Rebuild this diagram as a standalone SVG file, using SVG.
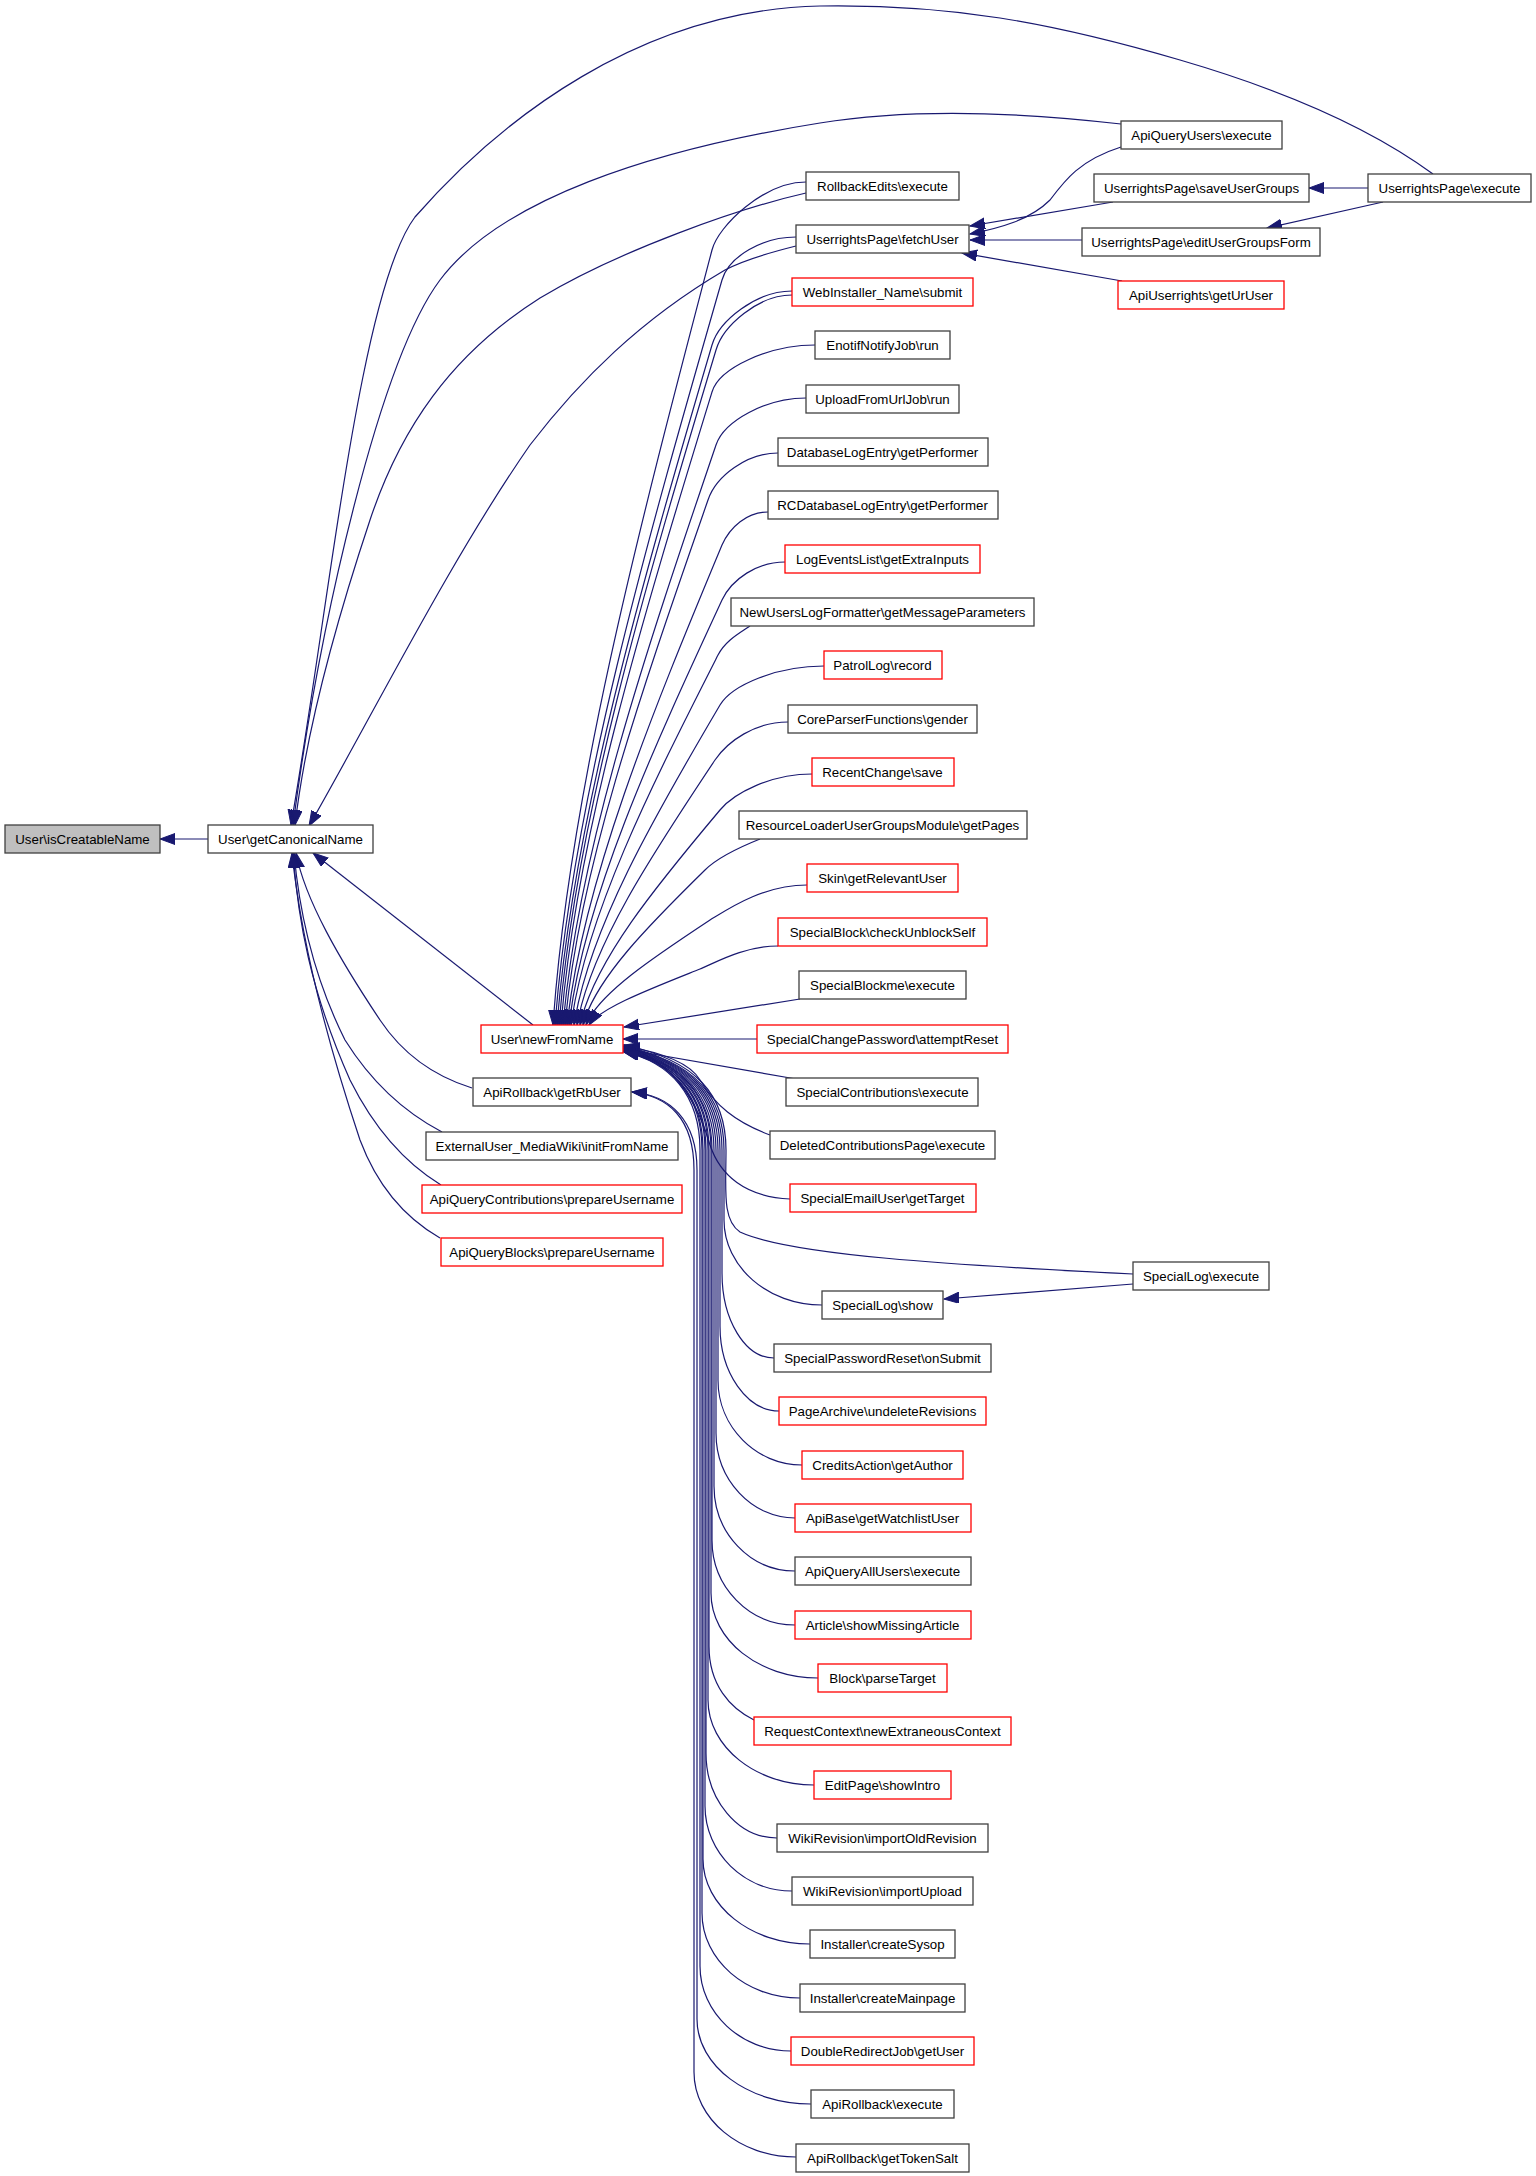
<svg xmlns="http://www.w3.org/2000/svg" width="1536" height="2176" viewBox="0 0 1536 2176">
<style>
.t{font-family:"Liberation Sans",Arial,Helvetica,sans-serif;font-size:13.3px;text-anchor:middle;fill:#000}
.b{fill:#fff;stroke:#404040;stroke-width:1.3}
.r{fill:#fff;stroke:#ff0000;stroke-width:1.3}
.g{fill:#bfbfbf;stroke:#404040;stroke-width:1.3}
.e{fill:none;stroke:#191970;stroke-width:1.2;marker-end:url(#ah)}
</style>
<defs>
<marker id="ah" markerUnits="userSpaceOnUse" markerWidth="16" markerHeight="12" refX="15" refY="5.5" orient="auto">
<path d="M0,0 L15,5.5 L0,11 z" fill="#191970" stroke="#191970" stroke-width="1"/>
</marker>
</defs>
<rect width="1536" height="2176" fill="#fff"/>
<g id="connectors">
<path class="e" d="M208,839 L160,839"/>
<path class="e" d="M1433,174 C1380,135 1300,95 1180,60 C1050,22 950,4 820,6 C640,10 500,120 415,217 C360,290 330,600 291,825"/>
<path class="e" d="M1121,124 C1000,110 900,110 820,123 C650,150 500,200 440,280 C380,360 320,620 293,825"/>
<path class="e" d="M806,193 C740,208 620,250 540,298 C450,355 400,430 370,520 C330,640 305,740 295,825"/>
<path class="e" d="M796,246 C760,255 740,262 725,270 C640,320 580,380 530,445 C450,560 370,720 309,826"/>
<path class="e" d="M533,1025 L313,853"/>
<path class="e" d="M472,1088 C430,1075 400,1050 380,1020 C340,960 305,900 296,853"/>
<path class="e" d="M442,1132 C400,1110 370,1080 345,1040 C315,980 300,920 294,853"/>
<path class="e" d="M441,1185 C400,1160 370,1120 350,1080 C310,990 298,920 293,853"/>
<path class="e" d="M440,1238 C400,1215 375,1180 360,1140 C320,1020 300,930 292,853"/>
<path class="e" d="M1121,147 C1080,160 1065,180 1050,200 C1030,220 1000,228 970,234"/>
<path class="e" d="M1113,202 L970,226"/>
<path class="e" d="M1082,240 L970,240"/>
<path class="e" d="M1122,281 L962,253"/>
<path class="e" d="M1368,188 L1309,188"/>
<path class="e" d="M1383,202 L1267,228"/>
<path class="e" d="M1133,1284 L944,1299"/>
<path class="e" d="M806,182 C764,182 718,226 712,250 C641,521 569,793 553,1025"/>
<path class="e" d="M796,237 C763,237 729,256 722,280 C647,541 572,802 555,1025"/>
<path class="e" d="M792,291 C756,291 719,321 712,345 C642,583 573,821 557,1025"/>
<path class="e" d="M792,295 C758,295 723,326 716,350 C645,586 575,823 559,1025"/>
<path class="e" d="M815,345 C769,345 719,368 712,392 C644,614 576,835 561,1025"/>
<path class="e" d="M806,398 C766,398 724,421 716,445 C647,648 578,851 563,1025"/>
<path class="e" d="M778,453 C747,453 716,476 708,500 C644,684 579,868 565,1025"/>
<path class="e" d="M768,512 C747,512 730,527 722,545 C652,713 583,881 567,1025"/>
<path class="e" d="M785,562 C757,562 732,579 722,600 C653,749 584,898 569,1025"/>
<path class="e" d="M750,626 C740,633 726,640 718,655 C652,785 586,914 571,1025"/>
<path class="e" d="M824,666 C777,666 732,685 720,705 C654,817 589,929 574,1025"/>
<path class="e" d="M788,722 C755,722 728,741 715,760 C653,853 591,946 577,1025"/>
<path class="e" d="M812,774 C771,774 734,793 720,810 C657,885 594,961 580,1025"/>
<path class="e" d="M760,839 C745,845 718,857 705,870 C650,924 595,979 583,1025"/>
<path class="e" d="M807,885 C763,885 728,909 710,920 C654,957 598,994 586,1025"/>
<path class="e" d="M778,946 C743,946 713,964 700,969 C650,989 600,1008 589,1025"/>
<path class="e" d="M800,999 L624,1027"/>
<path class="e" d="M757,1039 L623,1039"/>
<path class="e" d="M796,1079 L624,1049"/>
<path class="e" d="M770,1135 C735,1122 715,1105 700,1080 C690,1063 660,1052 624,1046"/>
<path class="e" d="M790,1199 C745,1197 720,1175 710,1145 C700,1110 680,1065 624,1045"/>
<path class="e" d="M1133,1274 C950,1265 790,1255 740,1232 C722,1220 726,1190 726,1150 C726,1095 696,1060 624,1045"/>
<path class="e" d="M822,1305 C768,1305 724,1267 724,1220 L724,1150 C724,1095 694,1062 624,1046"/>
<path class="e" d="M774,1358 C745,1358 722,1320 722,1273 L722,1150 C722,1095 692,1062 624,1046.5"/>
<path class="e" d="M779,1411 C747,1411 720,1373 720,1326 L720,1150 C720,1095 690,1062 624,1047"/>
<path class="e" d="M802,1465 C756,1465 718,1427 718,1380 L718,1150 C718,1095 688,1062 624,1047.5"/>
<path class="e" d="M795,1518 C752,1518 716,1480 716,1433 L716,1150 C716,1095 686,1062 624,1048"/>
<path class="e" d="M795,1571 C750,1571 714,1533 714,1486 L714,1150 C714,1095 684,1062 624,1048.5"/>
<path class="e" d="M795,1625 C749,1625 712,1587 712,1540 L712,1150 C712,1095 682,1062 624,1049"/>
<path class="e" d="M818,1678 C759,1678 711,1640 711,1593 L711,1150 C711,1095 681,1062 624,1049.5"/>
<path class="e" d="M754,1720 C730,1708 709,1685 709,1646 L709,1150 C709,1095 679,1062 624,1050"/>
<path class="e" d="M814,1785 C756,1785 708,1747 708,1700 L708,1150 C708,1095 678,1062 624,1050.5"/>
<path class="e" d="M777,1838 C738,1838 706,1800 706,1753 L706,1150 C706,1095 676,1062 624,1051"/>
<path class="e" d="M792,1891 C744,1891 705,1853 705,1806 L705,1150 C705,1095 675,1062 624,1051"/>
<path class="e" d="M810,1944 C751,1944 703,1906 703,1859 L703,1150 C703,1095 673,1062 624,1051.5"/>
<path class="e" d="M800,1998 C746,1998 702,1960 702,1913 L702,1150 C702,1095 672,1062 624,1052"/>
<path class="e" d="M791,2051 C741,2051 700,2013 700,1966 L700,1150 C700,1095 670,1062 624,1052"/>
<path class="e" d="M811,2104 C748,2104 697,2066 697,2019 L697,1170 C697,1120 670,1095 632,1092"/>
<path class="e" d="M796,2157 C740,2157 694,2119 694,2072 L694,1170 C694,1118 668,1096 632,1092"/>
</g>
<g id="n_isCreatableName"><rect class="g" x="5" y="825" width="155" height="28"/><text class="t" x="82.5" y="843.7">User\isCreatableName</text></g>
<g id="n_getCanonicalName"><rect class="b" x="208" y="825" width="165" height="28"/><text class="t" x="290.5" y="843.7">User\getCanonicalName</text></g>
<g id="n_newFromName"><rect class="r" x="481" y="1025" width="142" height="28"/><text class="t" x="552" y="1043.7">User\newFromName</text></g>
<g id="n_getRbUser"><rect class="b" x="473" y="1078" width="158" height="28"/><text class="t" x="552" y="1096.7">ApiRollback\getRbUser</text></g>
<g id="n_ExternalUser"><rect class="b" x="426" y="1132" width="252" height="28"/><text class="t" x="552" y="1150.7">ExternalUser_MediaWiki\initFromName</text></g>
<g id="n_ApiQueryContributions"><rect class="r" x="422" y="1185" width="260" height="28"/><text class="t" x="552" y="1203.7">ApiQueryContributions\prepareUsername</text></g>
<g id="n_ApiQueryBlocks"><rect class="r" x="441" y="1238" width="222" height="28"/><text class="t" x="552" y="1256.7">ApiQueryBlocks\prepareUsername</text></g>
<g id="n_RollbackEdits"><rect class="b" x="806" y="172" width="153" height="28"/><text class="t" x="882.5" y="190.7">RollbackEdits\execute</text></g>
<g id="n_fetchUser"><rect class="b" x="796" y="225" width="173" height="28"/><text class="t" x="882.5" y="243.7">UserrightsPage\fetchUser</text></g>
<g id="n_WebInstaller"><rect class="r" x="792" y="278" width="181" height="28"/><text class="t" x="882.5" y="296.7">WebInstaller_Name\submit</text></g>
<g id="n_Enotif"><rect class="b" x="815" y="331" width="135" height="28"/><text class="t" x="882.5" y="349.7">EnotifNotifyJob\run</text></g>
<g id="n_UploadFromUrl"><rect class="b" x="806" y="385" width="153" height="28"/><text class="t" x="882.5" y="403.7">UploadFromUrlJob\run</text></g>
<g id="n_DatabaseLogEntry"><rect class="b" x="778" y="438" width="210" height="28"/><text class="t" x="882.5" y="456.7">DatabaseLogEntry\getPerformer</text></g>
<g id="n_RCDatabaseLogEntry"><rect class="b" x="768" y="491" width="230" height="28"/><text class="t" x="882.5" y="509.7">RCDatabaseLogEntry\getPerformer</text></g>
<g id="n_LogEventsList"><rect class="r" x="785" y="545" width="195" height="28"/><text class="t" x="882.5" y="563.7">LogEventsList\getExtraInputs</text></g>
<g id="n_NewUsersLogFormatter"><rect class="b" x="731" y="598" width="303" height="28"/><text class="t" x="882.5" y="616.7">NewUsersLogFormatter\getMessageParameters</text></g>
<g id="n_PatrolLog"><rect class="r" x="824" y="651" width="118" height="28"/><text class="t" x="882.5" y="669.7">PatrolLog\record</text></g>
<g id="n_CoreParserFunctions"><rect class="b" x="788" y="705" width="189" height="28"/><text class="t" x="882.5" y="723.7">CoreParserFunctions\gender</text></g>
<g id="n_RecentChange"><rect class="r" x="812" y="758" width="142" height="28"/><text class="t" x="882.5" y="776.7">RecentChange\save</text></g>
<g id="n_ResourceLoader"><rect class="b" x="739" y="811" width="288" height="28"/><text class="t" x="882.5" y="829.7">ResourceLoaderUserGroupsModule\getPages</text></g>
<g id="n_Skin"><rect class="r" x="807" y="864" width="151" height="28"/><text class="t" x="882.5" y="882.7">Skin\getRelevantUser</text></g>
<g id="n_SpecialBlock"><rect class="r" x="778" y="918" width="209" height="28"/><text class="t" x="882.5" y="936.7">SpecialBlock\checkUnblockSelf</text></g>
<g id="n_SpecialBlockme"><rect class="b" x="799" y="971" width="167" height="28"/><text class="t" x="882.5" y="989.7">SpecialBlockme\execute</text></g>
<g id="n_SpecialChangePassword"><rect class="r" x="757" y="1025" width="251" height="28"/><text class="t" x="882.5" y="1043.7">SpecialChangePassword\attemptReset</text></g>
<g id="n_SpecialContributions"><rect class="b" x="786" y="1078" width="192" height="28"/><text class="t" x="882.5" y="1096.7">SpecialContributions\execute</text></g>
<g id="n_DeletedContributions"><rect class="b" x="770" y="1131" width="225" height="28"/><text class="t" x="882.5" y="1149.7">DeletedContributionsPage\execute</text></g>
<g id="n_SpecialEmailUser"><rect class="r" x="790" y="1184" width="186" height="28"/><text class="t" x="882.5" y="1202.7">SpecialEmailUser\getTarget</text></g>
<g id="n_SpecialLogShow"><rect class="b" x="822" y="1291" width="121" height="28"/><text class="t" x="882.5" y="1309.7">SpecialLog\show</text></g>
<g id="n_SpecialPasswordReset"><rect class="b" x="774" y="1344" width="217" height="28"/><text class="t" x="882.5" y="1362.7">SpecialPasswordReset\onSubmit</text></g>
<g id="n_PageArchive"><rect class="r" x="779" y="1397" width="207" height="28"/><text class="t" x="882.5" y="1415.7">PageArchive\undeleteRevisions</text></g>
<g id="n_CreditsAction"><rect class="r" x="802" y="1451" width="161" height="28"/><text class="t" x="882.5" y="1469.7">CreditsAction\getAuthor</text></g>
<g id="n_ApiBase"><rect class="r" x="795" y="1504" width="176" height="28"/><text class="t" x="882.5" y="1522.7">ApiBase\getWatchlistUser</text></g>
<g id="n_ApiQueryAllUsers"><rect class="b" x="795" y="1557" width="176" height="28"/><text class="t" x="882.5" y="1575.7">ApiQueryAllUsers\execute</text></g>
<g id="n_Article"><rect class="r" x="795" y="1611" width="176" height="28"/><text class="t" x="882.5" y="1629.7">Article\showMissingArticle</text></g>
<g id="n_Block"><rect class="r" x="818" y="1664" width="129" height="28"/><text class="t" x="882.5" y="1682.7">Block\parseTarget</text></g>
<g id="n_RequestContext"><rect class="r" x="754" y="1717" width="257" height="28"/><text class="t" x="882.5" y="1735.7">RequestContext\newExtraneousContext</text></g>
<g id="n_EditPage"><rect class="r" x="814" y="1771" width="137" height="28"/><text class="t" x="882.5" y="1789.7">EditPage\showIntro</text></g>
<g id="n_importOldRevision"><rect class="b" x="777" y="1824" width="211" height="28"/><text class="t" x="882.5" y="1842.7">WikiRevision\importOldRevision</text></g>
<g id="n_importUpload"><rect class="b" x="792" y="1877" width="181" height="28"/><text class="t" x="882.5" y="1895.7">WikiRevision\importUpload</text></g>
<g id="n_createSysop"><rect class="b" x="810" y="1930" width="145" height="28"/><text class="t" x="882.5" y="1948.7">Installer\createSysop</text></g>
<g id="n_createMainpage"><rect class="b" x="800" y="1984" width="165" height="28"/><text class="t" x="882.5" y="2002.7">Installer\createMainpage</text></g>
<g id="n_DoubleRedirectJob"><rect class="r" x="791" y="2037" width="183" height="28"/><text class="t" x="882.5" y="2055.7">DoubleRedirectJob\getUser</text></g>
<g id="n_ApiRollbackExecute"><rect class="b" x="811" y="2090" width="143" height="28"/><text class="t" x="882.5" y="2108.7">ApiRollback\execute</text></g>
<g id="n_getTokenSalt"><rect class="b" x="796" y="2144" width="173" height="28"/><text class="t" x="882.5" y="2162.7">ApiRollback\getTokenSalt</text></g>
<g id="n_ApiQueryUsers"><rect class="b" x="1121" y="121" width="161" height="28"/><text class="t" x="1201.5" y="139.7">ApiQueryUsers\execute</text></g>
<g id="n_saveUserGroups"><rect class="b" x="1094" y="174" width="215" height="28"/><text class="t" x="1201.5" y="192.7">UserrightsPage\saveUserGroups</text></g>
<g id="n_editUserGroupsForm"><rect class="b" x="1082" y="228" width="238" height="28"/><text class="t" x="1201" y="246.7">UserrightsPage\editUserGroupsForm</text></g>
<g id="n_getUrUser"><rect class="r" x="1118" y="281" width="166" height="28"/><text class="t" x="1201" y="299.7">ApiUserrights\getUrUser</text></g>
<g id="n_SpecialLogExecute"><rect class="b" x="1133" y="1262" width="136" height="28"/><text class="t" x="1201" y="1280.7">SpecialLog\execute</text></g>
<g id="n_UserrightsPageExecute"><rect class="b" x="1368" y="174" width="163" height="28"/><text class="t" x="1449.5" y="192.7">UserrightsPage\execute</text></g>
</svg>
